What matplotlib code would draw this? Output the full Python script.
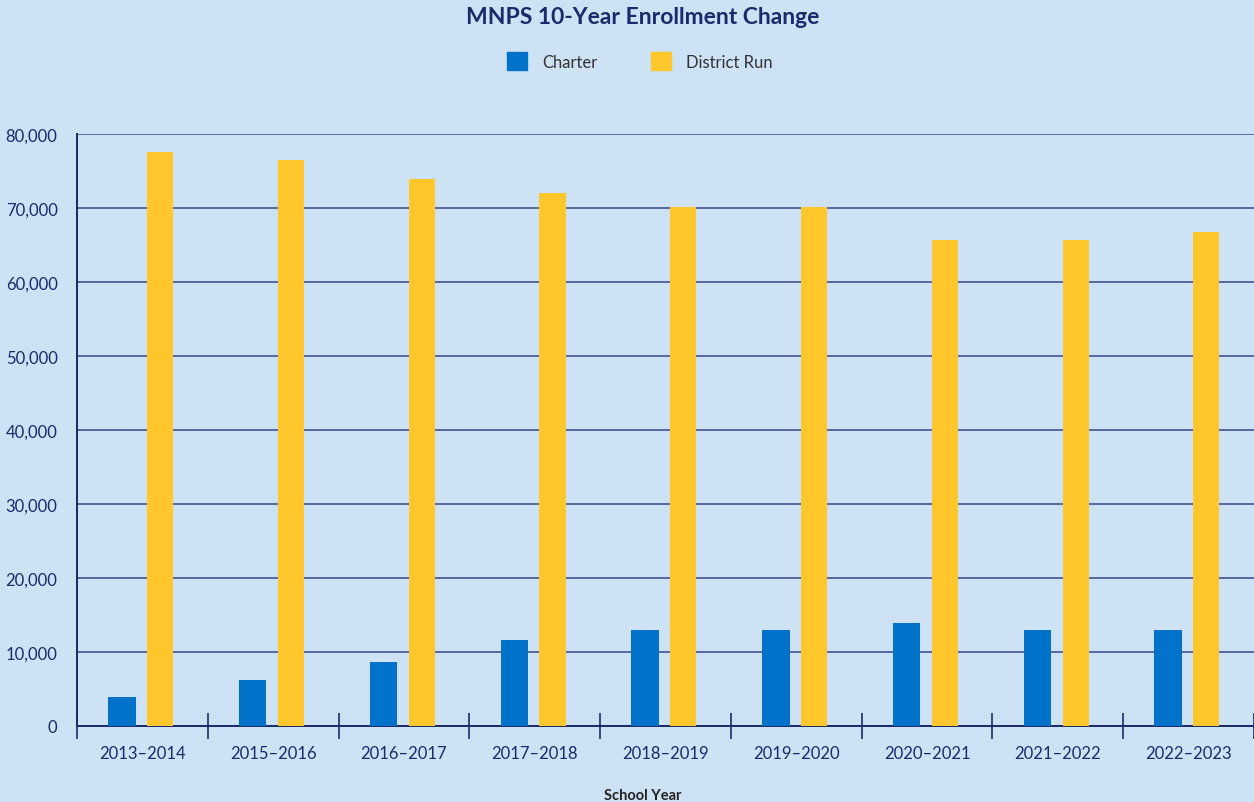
import numpy as np
import matplotlib.pyplot as plt
from matplotlib.patches import Patch

years = ["2013–2014", "2015–2016", "2016–2017", "2017–2018", "2018–2019",
         "2019–2020", "2020–2021", "2021–2022", "2022–2023"]
charter = [3900, 6200, 8600, 11600, 13000, 13000, 13900, 13000, 13000]
district = [77600, 76500, 73900, 72000, 70100, 70100, 65700, 65700, 66800]

bg = "#cde2f5"
blue = "#0072c9"
yellow = "#ffc72c"
navy = "#1b2a6b"
grid = "#4d5e9c"

plt.rcParams['font.family'] = ['Lato', 'DejaVu Sans']

fig = plt.figure(figsize=(12.54, 8.03), dpi=100, facecolor=bg)
ax = fig.add_axes([77/1254, 76/803, 1 - 77/1254, (727 - 135)/803])
ax.set_facecolor(bg)

x = np.arange(len(years))
ax.bar(x - 0.156, charter, width=0.21, color=blue, zorder=3)
ax.bar(x + 0.136, district, width=0.20, color=yellow, zorder=3)

ax.set_xlim(-0.5, len(years) - 0.5)
ax.set_ylim(0, 80000)
ax.set_yticks(np.arange(0, 80001, 10000))
ax.set_yticklabels([f"{v:,}" for v in range(0, 80001, 10000)])
ax.yaxis.grid(True, color=grid, linewidth=1.3, zorder=1)
ax.tick_params(axis='y', length=0, pad=14, labelsize=12, labelcolor=navy)

# boundary ticks between school years, labels centred under each group
ax.set_xticks(np.arange(-0.5, len(years), 1.0))
ax.set_xticklabels([])
ax.set_xticks(x, minor=True)
ax.set_xticklabels(years, minor=True)
ax.tick_params(axis='x', which='major', direction='inout', length=19,
               width=1.2, color=navy)
ax.tick_params(axis='x', which='minor', length=0, pad=14, labelsize=12,
               labelcolor=navy)

for s in ['top', 'right']:
    ax.spines[s].set_visible(False)
for s in ['left', 'bottom']:
    ax.spines[s].set_color(navy)
    ax.spines[s].set_linewidth(1.4)
ax.spines['left'].set_bounds(0, 80000)

fig.text(643/1254, 1 - 796/803, "School Year", ha='center', va='center',
         fontsize=10.5, fontweight='bold', color="#222222")

fig.text(643/1254, 1 - 17/803, "MNPS 10-Year Enrollment Change", ha='center',
         va='center', fontsize=16.5, fontweight='bold', color=navy)

handles = [Patch(color=blue, label="Charter"), Patch(color=yellow, label="District Run")]
fig.legend(handles=handles, loc='center', bbox_to_anchor=(0.51, 1 - 62/803),
           ncol=2, frameon=False, fontsize=12, handlelength=1.2, handleheight=1.2,
           columnspacing=3.2, handletextpad=0.9, labelcolor="#333333")

fig.savefig("out.png", dpi=100, facecolor=bg)
